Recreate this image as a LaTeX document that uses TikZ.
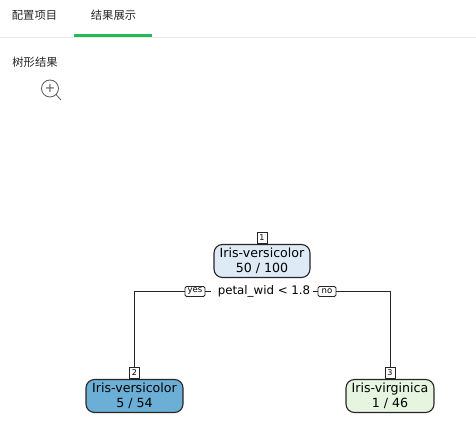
\documentclass[tikz,border=0pt]{standalone}
\usepackage{fontspec}
\setmainfont{DejaVu Sans}
\newfontfamily\cjk{Noto Sans CJK SC}
\usepackage{tikz}
\usetikzlibrary{positioning}
\definecolor{rootblue}{RGB}{222, 234, 246}
\definecolor{leftblue}{RGB}{107, 174, 214}
\definecolor{rightgreen}{RGB}{229, 245, 224}
\definecolor{tabgreen}{RGB}{34, 187, 85}
\definecolor{tabgray}{RGB}{232, 232, 232}
\definecolor{icongray}{RGB}{90, 90, 90}
\tikzset{
  treenode/.style={
    draw=black!85,
    line width=1.1pt,
    rounded corners=8.5pt,
    minimum height=33pt,
    inner sep=0pt,
    align=center,
    font=\fontsize{12.6}{14.5}\selectfont
  },
  numbox/.style={
    draw=black!85,
    fill=white,
    line width=0.9pt,
    minimum width=10pt,
    minimum height=10.5pt,
    inner sep=0pt,
    font=\fontsize{8}{8}\selectfont
  },
  yesno/.style={
    draw=black!85,
    fill=white,
    line width=0.9pt,
    rounded corners=1.5pt,
    minimum height=10pt,
    inner sep=0pt,
    font=\fontsize{8.5}{8.5}\selectfont
  },
  tabtext/.style={
    inner sep=0pt,
    text=black!85,
    font=\cjk\fontsize{11.3}{12}\selectfont
  },
  treeline/.style={
    draw=black!85,
    line width=1pt
  }
}
\begin{document}
\begin{tikzpicture}[x=1pt, y=-1pt]
  \useasboundingbox (0, 0) rectangle (476, 430);
  % tabs
  \node[tabtext] (tabone) at (34.5, 15) {配置项目};
  \node[tabtext] (tabtwo) at (113.5, 15) {结果展示};
  \coordinate (ruleleft) at (0, 37.5);
  \coordinate (ruleright) at (476, 37.5);
  \draw[tabgray, line width=1pt] (ruleleft) -- (ruleright);
  \coordinate (activeleft) at (74, 35.5);
  \coordinate (activeright) at (152, 35.5);
  \draw[tabgreen, line width=3pt] (activeleft) -- (activeright);
  \node[tabtext] (treetitle) at (35, 62.5) {树形结果};
  % zoom icon
  \node[draw=icongray, circle, minimum size=17pt, inner sep=0pt, line width=0.8pt, font=\fontsize{13}{13}\selectfont, text=icongray] (zoomicon) at (50, 88.5) {+};
  \coordinate (zoomhandle) at (61, 100);
  \draw[icongray, line width=0.8pt] (zoomicon) ++(6, 6) -- (zoomhandle);

  % tree
  \node[treenode, fill=rootblue, minimum width=96pt] (root) at (262, 261) {Iris-versicolor\\50 / 100};
  \node[treenode, fill=leftblue, minimum width=97pt] (leftleaf) at (134.5, 396) {Iris-versicolor\\5 / 54};
  \node[treenode, fill=rightgreen, minimum width=88pt] (rightleaf) at (390, 396) {Iris-virginica\\1 / 46};
  \node[numbox, above=0.5pt of root] (numone) {1};
  \node[numbox, above=0.5pt of leftleaf] (numtwo) {2};
  \node[numbox, above=0.5pt of rightleaf] (numthree) {3};
  \node[inner sep=0pt, font=\fontsize{11.8}{14}\selectfont] (split) at (264, 291.5) {petal\_wid < 1.8};
  \node[yesno, minimum width=20pt] (yeslabel) at (195, 291.5) {yes};
  \node[yesno, minimum width=18pt] (nolabel) at (327, 291.5) {no};

  \draw[treeline] (yeslabel) -| (numtwo);
  \draw[treeline] (nolabel) -| (numthree);
  \draw[treeline, shorten >=7pt] (yeslabel) -- (split);
  \draw[treeline, shorten >=0pt, shorten <=3pt] (split) -- (nolabel);
\end{tikzpicture}
\end{document}
